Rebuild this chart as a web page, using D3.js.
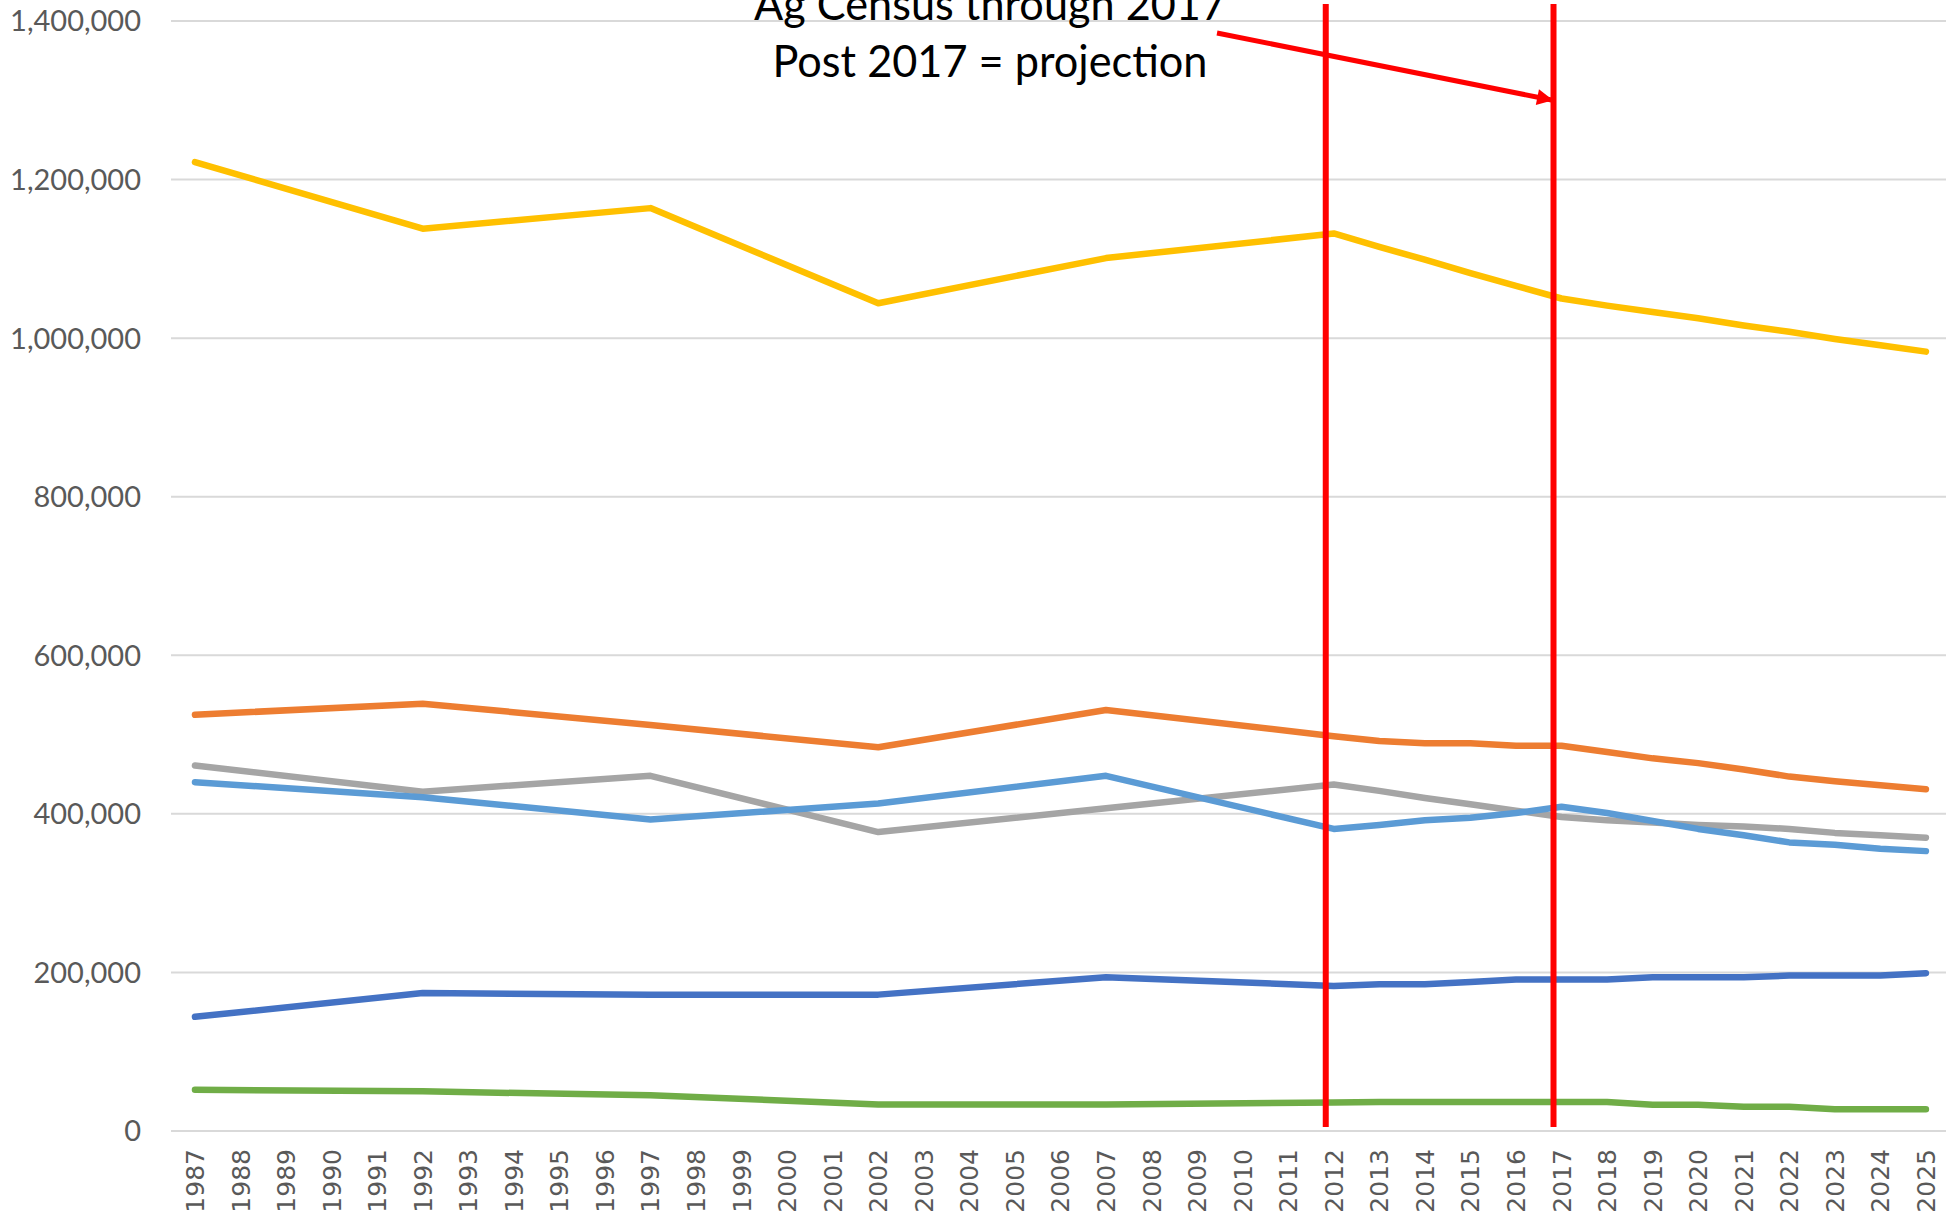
<!DOCTYPE html>
<html>
<head>
<meta charset="utf-8">
<script src="https://cdn.jsdelivr.net/npm/d3@7"></script>
<style>
  html, body { margin: 0; padding: 0; background: #ffffff; overflow: hidden; }
  svg { display: block; }
</style>
</head>
<body>
<svg id="chart" width="1946" height="1217"></svg>
<script>
// ---- data ----
const years = [1987,1988,1989,1990,1991,1992,1993,1994,1995,1996,1997,1998,1999,2000,2001,2002,2003,2004,2005,2006,2007,2008,2009,2010,2011,2012,2013,2014,2015,2016,2017,2018,2019,2020,2021,2022,2023,2024,2025];
const _ = null;
const seriesDarkBlue = [144000,_,_,_,_,174000,_,_,_,_,172000,_,_,_,_,172000,_,_,_,_,194000,_,_,_,_,183000,185000,185000,188000,191000,191000,191000,194000,194000,194000,196000,196000,196000,199000];
const seriesOrange   = [525000,_,_,_,_,539000,_,_,_,_,512000,_,_,_,_,484000,_,_,_,_,531000,_,_,_,_,498000,492000,489000,489000,486000,486000,478000,470000,464000,456000,447000,441000,436000,431000];
const seriesGray     = [461000,_,_,_,_,428000,_,_,_,_,448000,_,_,_,_,377000,_,_,_,_,407000,_,_,_,_,437000,429000,420000,412000,404000,396000,392000,389000,386000,384000,381000,376000,373000,370000];
const seriesYellow   = [1222000,_,_,_,_,1138000,_,_,_,_,1164000,_,_,_,_,1044000,_,_,_,_,1101000,_,_,_,_,1132000,1115000,1099000,1082000,1066000,1050000,1041000,1033000,1025000,1016000,1008000,999000,991000,983000];
const seriesLightBlue= [440000,_,_,_,_,421000,_,_,_,_,393000,_,_,_,_,413000,_,_,_,_,448000,_,_,_,_,381000,386000,392000,395000,401000,409000,401000,391000,381000,373000,364000,361000,356000,353000];
const seriesGreen    = [52000,_,_,_,_,50000,_,_,_,_,45000,_,_,_,_,33500,_,_,_,_,33500,_,_,_,_,36000,36500,36500,36500,36500,36500,36500,33000,33000,30500,30500,27500,27500,27500];
const yTicks = [0,200000,400000,600000,800000,1000000,1200000,1400000];
const markerYears = [2012, 2017];
const annotationLines = ["Ag Census through 2017", "Post 2017 = projection"];

const seriesList = [
  {values: seriesDarkBlue, color: "#4472C4"},
  {values: seriesOrange, color: "#ED7D31"},
  {values: seriesGray, color: "#A5A5A5"},
  {values: seriesYellow, color: "#FFC000"},
  {values: seriesLightBlue, color: "#5B9BD5"},
  {values: seriesGreen, color: "#70AD47"}
];

// ---- layout ----
const svg = d3.select("#chart");
const x = d3.scalePoint().domain(years).range([172.2, 1948.7]).padding(0.5);
const y = d3.scaleLinear().domain([0, 1400000]).range([1131, 21]);

// gridlines
svg.append("g").selectAll("line").data(yTicks).join("line")
  .attr("x1", 171).attr("x2", 1946)
  .attr("y1", d => y(d)).attr("y2", d => y(d))
  .attr("stroke", "#d9d9d9").attr("stroke-width", 2);

// y axis labels
const fmt = d3.format(",");
svg.append("g").selectAll("text").data(yTicks).join("text")
  .attr("x", 141).attr("y", d => y(d))
  .attr("dy", "0.36em")
  .attr("text-anchor", "end")
  .attr("font-family", "Lato, 'Liberation Sans', sans-serif")
  .attr("font-size", 29)
  .attr("fill", "#595959")
  .text(d => fmt(d));

// x axis labels
svg.append("g").selectAll("text").data(years).join("text")
  .attr("transform", d => `translate(${x(d)},1149) rotate(-90)`)
  .attr("dy", "0.36em")
  .attr("text-anchor", "end")
  .attr("font-family", "'DejaVu Sans', sans-serif")
  .attr("font-size", 25)
  .attr("fill", "#595959")
  .text(d => d);

// series lines
const line = d3.line()
  .x(d => x(d.year))
  .y(d => y(d.value));
seriesList.forEach(s => {
  const pts = years.map((yr, i) => ({year: yr, value: s.values[i]})).filter(p => p.value !== null);
  svg.append("path")
    .datum(pts)
    .attr("d", line)
    .attr("fill", "none")
    .attr("stroke", s.color)
    .attr("stroke-width", 6.5)
    .attr("stroke-linejoin", "round")
    .attr("stroke-linecap", "round");
});

// red vertical markers
svg.append("g").selectAll("line").data(markerYears).join("line")
  .attr("x1", d => x(d) - 8).attr("x2", d => x(d) - 8)
  .attr("y1", 4).attr("y2", 1127)
  .attr("stroke", "#FF0000").attr("stroke-width", 6);

// annotation text
const ann = svg.append("g")
  .attr("font-family", "Lato, 'Liberation Sans', sans-serif")
  .attr("font-size", 44)
  .attr("fill", "#000000")
  .attr("text-anchor", "middle");
ann.append("text").attr("x", 990).attr("y", 20)
  .attr("textLength", 472).attr("lengthAdjust", "spacingAndGlyphs")
  .text(annotationLines[0]);
ann.append("text").attr("x", 990).attr("y", 77)
  .attr("textLength", 435).attr("lengthAdjust", "spacingAndGlyphs")
  .text(annotationLines[1]);

// arrow
const defs = svg.append("defs");
defs.append("marker")
  .attr("id", "arrowhead")
  .attr("viewBox", "0 0 10 10")
  .attr("refX", 9).attr("refY", 5)
  .attr("markerWidth", 3.4).attr("markerHeight", 3.2)
  .attr("orient", "auto")
  .attr("markerUnits", "strokeWidth")
  .append("path").attr("d", "M0,0 L10,5 L0,10 Z").attr("fill", "#FF0000");
const arrowEnd = x(markerYears[1]) - 10;
svg.append("line")
  .attr("x1", 1217).attr("y1", 33)
  .attr("x2", arrowEnd).attr("y2", 100)
  .attr("stroke", "#FF0000").attr("stroke-width", 5)
  .attr("marker-end", "url(#arrowhead)");
</script>
</body>
</html>
